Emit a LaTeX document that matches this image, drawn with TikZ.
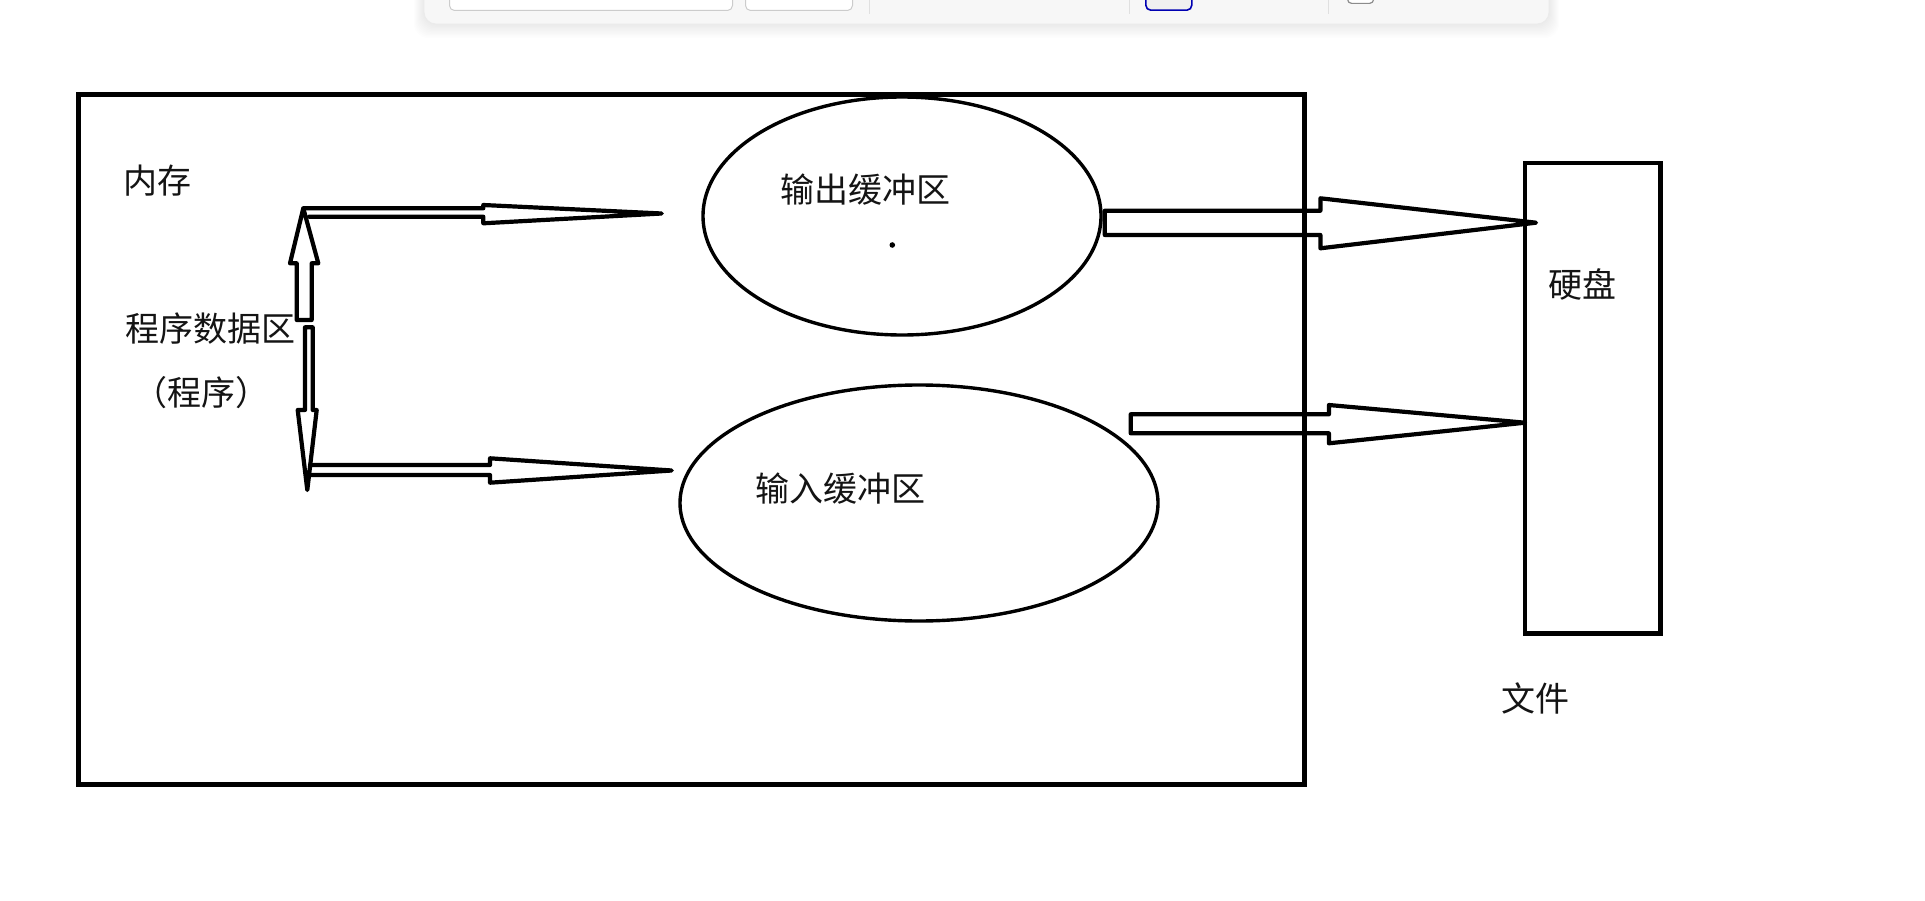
\documentclass[tikz,border=0pt]{standalone}
\usepackage{fontspec}
\newfontfamily\cjk{Noto Sans CJK SC}
\usetikzlibrary{shapes.geometric}
\begin{document}
\begin{tikzpicture}[x=1pt,y=-1pt,
  lbl/.style={font=\cjk\fontsize{34}{40}\selectfont, inner sep=0pt, text=black!92},
  box/.style={draw, line width=5pt},
  buf/.style={draw, ellipse, line width=3.4pt, inner sep=0pt},
  blk/.style={draw, line width=4.2pt, line join=round, line cap=round},
  tbar/.style={rounded corners=12pt},
  tbox/.style={draw=black!20, fill=white, line width=1pt, rounded corners=5pt},
  tsep/.style={draw=black!12, line width=1pt}]
\useasboundingbox (0,0) rectangle (1925,901);
\fill[white] (0,0) rectangle (1925,901);

% --- toolbar fragment at the top edge ---
\foreach \d in {1,...,10}{
  \fill[black, opacity=0.006, rounded corners=14pt] (424-\d,-20) rectangle (1549+\d,24+1.4*\d);
}
\fill[fill=black!3, tbar] (424,-20) rectangle (1549,24);
\draw[black!8, line width=0.8pt, tbar] (424,-20) rectangle (1549,24);
\node[tbox, minimum width=283pt, minimum height=30pt, anchor=south west] (tb1) at (449,11) {};
\node[tbox, minimum width=107pt, minimum height=30pt, anchor=south west] (tb2) at (745,11) {};
\draw[tsep] (869,-5) -- (869,14);
\draw[tsep] (1129,-5) -- (1129,14);
\draw[tsep] (1328,-5) -- (1328,14);
\node[draw=blue!70!black, fill=black!6, line width=1.6pt, rounded corners=5pt,
  minimum width=46pt, minimum height=30pt, anchor=south west] (tb3) at (1145,11) {};
\node[draw=black!45, fill=white, line width=1.2pt, rounded corners=4pt,
  minimum width=26pt, minimum height=20pt, anchor=south west] (tb4) at (1347,4) {};

% --- memory, buffers, disk ---
\node[box, minimum width=1226pt, minimum height=689pt] (mem) at (691,439.5) {};
\node[buf, minimum width=398pt, minimum height=238pt] (outbuf) at (902,216) {};
\node[buf, minimum width=478pt, minimum height=236pt] (inbuf) at (919,503) {};
\node[draw, line width=4.4pt, minimum width=135.5pt, minimum height=470.5pt] (disk) at (1592.75,398.25) {};

% --- labels ---
\node[lbl] (tmem) at (157.5,181) {内存};
\node[lbl] (tprog) at (210,329) {程序数据区};
\node[lbl] (tprog2) at (201.5,393) {（程序）};
\node[lbl] (tout) at (865,190) {输出缓冲区};
\node[lbl] (tin) at (840,489) {输入缓冲区};
\node[lbl] (tdisk) at (1582.5,284) {硬盘};
\node[lbl] (tfile) at (1535,698) {文件};
\fill (892.3,245) circle (2.8);

% --- arrow tips ---
\coordinate (upTip) at (303.3,208.3);
\coordinate (downTip) at (307.3,490);
\coordinate (toOut) at (661.7,213.5);
\coordinate (toIn) at (671.7,470.5);
\coordinate (outDisk) at (1536,222.7);
\coordinate (inDisk) at (1525,422.7);

% up arrow (program area -> up)
\draw[blk] (upTip) -- (318.3,263.3) -- (311.7,263.3) -- (311.7,320) -- (296.7,320)
  -- (296.7,263.3) -- (290,263.3) -- cycle;
% down arrow
\draw[blk] (305,327.3) -- (312.7,327.3) -- (312.7,410) -- (316.7,410) -- (downTip)
  -- (297.7,410) -- (305,410) -- cycle;
% upper horizontal arrow towards output buffer
\draw[blk] (309,216.7) -- (483.3,216.7) -- (483.3,223.3) -- (toOut)
  -- (483.3,205) -- (483.3,208.3) -- (upTip);
% lower horizontal arrow towards input buffer
\draw[blk] (310,475) -- (490,475) -- (490,482.7) -- (toIn)
  -- (490,458.3) -- (490,465) -- (310,465);
% output buffer -> disk
\draw[blk] (1104.8,210.7) -- (1320.4,210.7) -- (1320.4,198.3) -- (outDisk)
  -- (1320.4,248.3) -- (1320.4,235) -- (1104.8,235) -- cycle;
% input buffer <-> disk
\draw[blk] (1130.7,414.3) -- (1328.9,414.3) -- (1328.9,405) -- (inDisk)
  -- (1328.9,443.3) -- (1328.9,433.3) -- (1130.7,433.3) -- cycle;
\end{tikzpicture}
\end{document}
